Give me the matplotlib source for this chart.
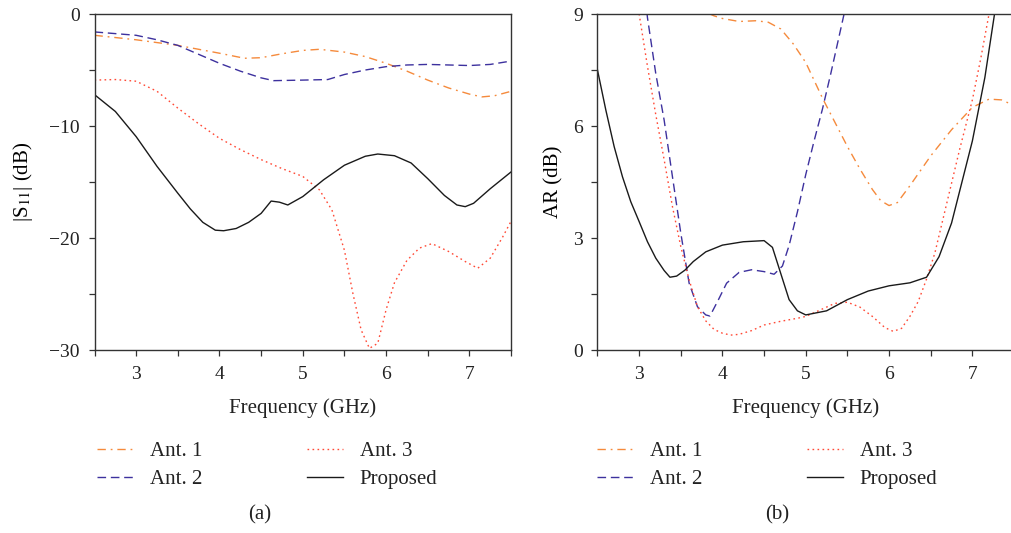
import matplotlib.pyplot as plt
from matplotlib.ticker import MultipleLocator, FuncFormatter

plt.rcParams['font.family'] = ['Liberation Serif', 'DejaVu Serif']
plt.rcParams['mathtext.fontset'] = 'stix'

# ---- (a) |S11| data ----
s11_ant1_x = [2.5, 3.0, 3.5, 4.0, 4.3, 4.5, 4.75, 5.0, 5.2, 5.5, 5.75, 6.0, 6.25, 6.5, 6.75, 7.0, 7.15, 7.3, 7.5]
s11_ant1_y = [-1.9, -2.3, -2.8, -3.5, -3.95, -3.9, -3.55, -3.25, -3.15, -3.4, -3.8, -4.4, -5.1, -5.9, -6.6, -7.15, -7.4, -7.3, -6.9]

s11_ant2_x = [2.5, 2.75, 3.0, 3.25, 3.5, 3.75, 4.0, 4.25, 4.5, 4.65, 5.0, 5.3, 5.5, 5.75, 6.0, 6.25, 6.5, 6.75, 7.0, 7.25, 7.5]
s11_ant2_y = [-1.6, -1.75, -1.9, -2.3, -2.8, -3.6, -4.4, -5.1, -5.7, -5.95, -5.9, -5.85, -5.4, -5.0, -4.7, -4.55, -4.5, -4.55, -4.6, -4.5, -4.2]

s11_ant3_x = [2.5, 2.75, 3.0, 3.25, 3.5, 3.75, 4.0, 4.25, 4.5, 4.75, 5.0, 5.2, 5.35, 5.5, 5.6, 5.7, 5.8, 5.9, 6.0, 6.1,
              6.25, 6.4, 6.55, 6.75, 6.95, 7.1, 7.25, 7.4, 7.5]
s11_ant3_y = [-5.9, -5.85, -6.0, -6.9, -8.4, -9.8, -11.1, -12.1, -13.0, -13.8, -14.5, -15.7, -17.5, -21.1, -24.9, -28.2,
              -29.85, -29.4, -26.4, -24.0, -22.0, -20.9, -20.5, -21.2, -22.1, -22.7, -21.8, -19.9, -18.5]

s11_prop_x = [2.5, 2.75, 3.0, 3.25, 3.5, 3.65, 3.8, 3.95, 4.05, 4.2, 4.35, 4.5, 4.62, 4.72, 4.82, 5.0, 5.25, 5.5, 5.75,
              5.9, 6.1, 6.3, 6.5, 6.7, 6.85, 6.95, 7.05, 7.25, 7.5]
s11_prop_y = [-7.2, -8.7, -10.95, -13.6, -16.0, -17.4, -18.6, -19.3, -19.35, -19.15, -18.6, -17.8, -16.7, -16.8, -17.05,
              -16.3, -14.8, -13.5, -12.7, -12.5, -12.65, -13.3, -14.7, -16.2, -17.05, -17.2, -16.9, -15.6, -14.1]

# ---- (b) AR data ----
ar_ant1_x = [2.5, 3.0, 3.5, 3.8, 3.9, 4.0, 4.2, 4.4, 4.55, 4.7, 4.85, 5.0, 5.2, 5.35, 5.5, 5.65, 5.8, 5.9, 6.0, 6.1,
             6.25, 6.5, 6.75, 7.0, 7.2, 7.35, 7.5]
ar_ant1_y = [14.0, 12.0, 10.0, 9.05, 8.95, 8.88, 8.8, 8.82, 8.78, 8.6, 8.2, 7.7, 6.75, 6.1, 5.45, 4.85, 4.3, 4.0, 3.87,
             3.95, 4.4, 5.2, 5.9, 6.5, 6.72, 6.7, 6.55]

ar_ant2_x = [3.0, 3.1, 3.2, 3.3, 3.4, 3.5, 3.6, 3.7, 3.8, 3.85, 3.95, 4.05, 4.2, 4.35, 4.5, 4.62, 4.72, 4.8, 4.9, 5.0,
             5.1, 5.2, 5.3, 5.4, 5.5, 5.6]
ar_ant2_y = [11.0, 8.9, 7.4, 6.16, 4.64, 3.13, 1.79, 1.16, 0.94, 0.91, 1.34, 1.79, 2.08, 2.15, 2.1, 2.03, 2.25, 2.8, 3.7,
             4.7, 5.6, 6.45, 7.4, 8.4, 9.4, 10.5]

ar_ant3_x = [2.9, 3.0, 3.1, 3.2, 3.3, 3.4, 3.5, 3.6, 3.7, 3.8, 3.9, 4.0, 4.1, 4.2, 4.35, 4.5, 4.7, 4.9, 5.0, 5.2, 5.35,
             5.5, 5.65, 5.8, 5.95, 6.05, 6.15, 6.25, 6.35, 6.45, 6.55, 6.7, 6.85, 7.0, 7.1, 7.2, 7.3]
ar_ant3_y = [10.5, 9.0, 7.6, 6.3, 5.1, 3.84, 2.77, 1.88, 1.16, 0.78, 0.55, 0.45, 0.4, 0.42, 0.52, 0.67, 0.77, 0.85, 0.9,
             1.1, 1.25, 1.28, 1.15, 0.9, 0.6, 0.5, 0.58, 0.9, 1.3, 1.9, 2.6, 4.0, 5.4, 6.7, 7.8, 9.0, 10.3]

ar_prop_x = [2.5, 2.6, 2.7, 2.8, 2.9, 3.0, 3.1, 3.2, 3.3, 3.37, 3.45, 3.55, 3.65, 3.8, 4.0, 4.25, 4.5, 4.6, 4.7, 4.8,
             4.9, 5.0, 5.25, 5.5, 5.75, 6.0, 6.25, 6.45, 6.6, 6.75, 7.0, 7.15, 7.3]
ar_prop_y = [7.5, 6.43, 5.45, 4.64, 3.97, 3.44, 2.9, 2.46, 2.13, 1.95, 1.98, 2.14, 2.37, 2.63, 2.81, 2.9, 2.93, 2.75,
             2.05, 1.35, 1.05, 0.94, 1.05, 1.35, 1.58, 1.72, 1.8, 1.95, 2.5, 3.4, 5.6, 7.3, 9.5]

labels = ['Ant. 1', 'Ant. 2', 'Ant. 3', 'Proposed']
colors = ['#f58a3c', '#3d319e', '#ff4a36', '#1a1a1a']
dashes = [(6, 3.5, 1.3, 3.5), (6.2, 3.4), (1.2, 2.4), None]

fig = plt.figure(figsize=(10.12, 5.33), dpi=100)
ax1 = fig.add_axes([0.0934, 0.3433, 0.4116, 0.6304])
ax2 = fig.add_axes([0.5904, 0.3433, 0.4116, 0.6304])


def draw(ax, series):
    handles = []
    for (xs, ys), lab, c, d in zip(series, labels, colors, dashes):
        line, = ax.plot(xs, ys, color=c, lw=1.0, label=lab)
        if d is not None:
            line.set_dashes(d)
        handles.append(line)
    return handles


h1 = draw(ax1, [(s11_ant1_x, s11_ant1_y), (s11_ant2_x, s11_ant2_y),
                (s11_ant3_x, s11_ant3_y), (s11_prop_x, s11_prop_y)])
h2 = draw(ax2, [(ar_ant1_x, ar_ant1_y), (ar_ant2_x, ar_ant2_y),
                (ar_ant3_x, ar_ant3_y), (ar_prop_x, ar_prop_y)])

ax1.set_ylim(-30, 0)
ax1.yaxis.set_major_locator(MultipleLocator(10))
ax1.yaxis.set_minor_locator(MultipleLocator(5))
ax1.yaxis.set_major_formatter(FuncFormatter(lambda v, p: f'{v:.0f}'.replace('-', '\u2212')))
ax1.set_ylabel('|S$_{11}$| (dB)', fontsize=15, labelpad=10)

ax2.set_ylim(0, 9)
ax2.yaxis.set_major_locator(MultipleLocator(3))
ax2.yaxis.set_minor_locator(MultipleLocator(1.5))
ax2.set_ylabel('AR (dB)', fontsize=15, labelpad=7)

for ax in (ax1, ax2):
    ax.set_xlim(2.5, 7.5)
    ax.xaxis.set_major_locator(MultipleLocator(1))
    ax.xaxis.set_minor_locator(MultipleLocator(0.5))
    ax.tick_params(which='both', direction='out', length=4.5, width=0.9, labelsize=14,
                   colors='#333333', labelcolor='#222222', pad=6)
    ax.tick_params(axis='x', pad=7)
    for s in ax.spines.values():
        s.set_linewidth(1.0)
        s.set_color('#333333')
    ax.set_xlabel('Frequency (GHz)', fontsize=15, labelpad=11, color='#222222')

for h, x0 in ((h1, 97 / 1012), (h2, 597 / 1012)):
    fig.legend(handles=h, ncol=2, loc='upper left', bbox_to_anchor=(x0, 0.172), frameon=False,
               fontsize=15, handlelength=1.73, handletextpad=0.82, columnspacing=5.0,
               labelspacing=0.4, borderpad=0, borderaxespad=0, labelcolor='#222222')

fig.text(260 / 1012, 1 - 515 / 533, '(a)', fontsize=15, ha='center', va='center', color='#222222')
fig.text(777 / 1012, 1 - 515 / 533, '(b)', fontsize=15, ha='center', va='center', color='#222222')

fig.savefig('out.png', dpi=100)
